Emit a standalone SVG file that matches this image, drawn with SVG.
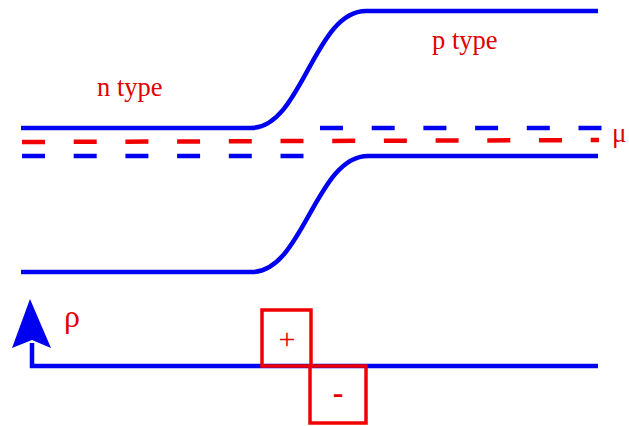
<svg xmlns="http://www.w3.org/2000/svg" width="629" height="426" viewBox="0 0 629 426">
<style>
.band{fill:none;stroke:#0000f0;stroke-width:4.5;stroke-linecap:butt}
.dash{fill:none;stroke-width:4.5;stroke-dasharray:23 28.7}
.lbl{font-family:"Liberation Serif","Times New Roman",serif;fill:#e00000}
.box{fill:none;stroke:#f00000;stroke-width:3.5}
</style>
<rect width="629" height="426" fill="#ffffff"/>
<g id="connectors">
<path id="conduction" class="band" d="M21,128 L251,128 C302,128 314,11 366,11 L598,11"/>
<path id="valence" class="band" d="M21,272 L252,272 C303,272 316,156 368,156 L598,156"/>
<line id="mu-line" class="dash" x1="22" y1="142" x2="599" y2="140" stroke="#f00000"/>
<line id="left-dash" class="dash" x1="22" y1="156" x2="304" y2="156" stroke="#0000f0"/>
<line id="right-dash" class="dash" x1="320" y1="128" x2="602" y2="128" stroke="#0000f0"/>
<path id="axis" class="band" d="M32,343 L32,366 L598,366"/>
<path id="arrowhead" d="M30,299 L51,348 L32,340 L12,348 Z" fill="#0000f0"/>
</g>
<g id="n-type"><text class="lbl" x="97" y="96" font-size="26.5">n type</text></g>
<g id="p-type"><text class="lbl" x="432" y="49" font-size="26.5">p type</text></g>
<g id="mu"><text class="lbl" x="612" y="142" font-size="27">μ</text></g>
<g id="rho"><text class="lbl" x="64" y="327" font-size="32">ρ</text></g>
<g id="plus-box">
<rect class="box" x="262" y="310" width="49" height="56"/>
<text class="lbl" x="287" y="349" font-size="30" font-weight="300" text-anchor="middle">+</text>
</g>
<g id="minus-box">
<rect class="box" x="310" y="366" width="56" height="57"/>
<text class="lbl" x="338" y="403" font-size="32" font-weight="bold" text-anchor="middle">-</text>
</g>
</svg>
